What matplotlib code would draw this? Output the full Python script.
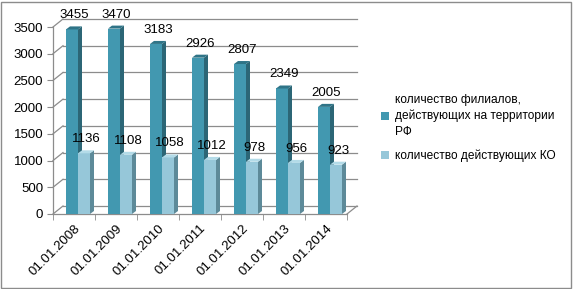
import matplotlib.pyplot as plt
from matplotlib.patches import Polygon, Rectangle, Patch

plt.rcParams['font.family'] = ['Liberation Sans', 'DejaVu Sans']

dates = ['01.01.2008', '01.01.2009', '01.01.2010', '01.01.2011',
         '01.01.2012', '01.01.2013', '01.01.2014']
filials = [3455, 3470, 3183, 2926, 2807, 2349, 2005]
banks = [1136, 1108, 1058, 1012, 978, 956, 923]
yticks = [0, 500, 1000, 1500, 2000, 2500, 3000, 3500]
names = ['количество филиалов,\nдействующих на территории\nРФ',
         'количество действующих КО']

W, H = 573, 289
fig = plt.figure(figsize=(W / 100, H / 100), dpi=100)
# front axis frame in pixels
x0, x1, y0, y1 = 53, 347, 214, 27
ax = fig.add_axes([x0 / W, (H - y0) / H, (x1 - x0) / W, (y0 - y1) / H])
ax.set_xlim(-0.5, 6.5)
ax.set_ylim(0, 3500)

pxx = (x1 - x0) / 7.0          # pixels per category
pxy = (y0 - y1) / 3500.0       # pixels per unit
def ox(p): return p / pxx
def oy(p): return p / pxy

grid_c = '#8c8c8c'
# back wall / side wall gridlines
wdx, wdy = ox(10), oy(8)
for v in yticks:
    ax.plot([-0.5 + wdx, 6.5 + wdx], [v + wdy, v + wdy], color=grid_c, lw=0.9, clip_on=False, zorder=1)
    ax.plot([-0.5, -0.5 + wdx], [v, v + wdy], color=grid_c, lw=0.9, clip_on=False, zorder=1)
ax.plot([6.5, 6.5 + wdx], [0, wdy], color=grid_c, lw=0.9, clip_on=False, zorder=1)

bw = ox(12)
bdx, bdy = ox(4), oy(3)

def bar3d(xl, h, front, side, top):
    ax.add_patch(Rectangle((xl, 0), bw, h, facecolor=front, edgecolor='none', zorder=3, clip_on=False))
    ax.add_patch(Polygon([(xl + bw, 0), (xl + bw + bdx, bdy), (xl + bw + bdx, h + bdy), (xl + bw, h)],
                         facecolor=side, edgecolor='none', zorder=3, clip_on=False))
    ax.add_patch(Polygon([(xl, h), (xl + bdx, h + bdy), (xl + bw + bdx, h + bdy), (xl + bw, h)],
                         facecolor=top, edgecolor='none', zorder=3, clip_on=False))

dark = ('#4298b0', '#2c6676', '#2f7487')
light = ('#96c7d9', '#5d8a99', '#b3dbe8')
for i, (a, b) in enumerate(zip(filials, banks)):
    xl = i - ox(8)
    bar3d(xl, a, *dark)
    bar3d(xl + bw, b, *light)
    ax.text(xl + bw / 2 + ox(2), a + oy(8), str(a), ha='center', va='bottom', fontsize=9.5, zorder=5)
    ax.text(xl + bw * 1.5 + ox(2), b + oy(8), str(b), ha='center', va='bottom', fontsize=9.5, zorder=5)

for s in ['top', 'right']:
    ax.spines[s].set_visible(False)
for s in ['left', 'bottom']:
    ax.spines[s].set_color(grid_c)
    ax.spines[s].set_linewidth(0.9)
ax.set_yticks(yticks)
ax.tick_params(axis='y', length=4, color=grid_c, labelsize=9.5, pad=3)
ax.set_xticks(range(7))
ax.set_xticklabels(dates, rotation=45, ha='right', rotation_mode='anchor', fontsize=9.5)
ax.set_xticks([i - 0.5 for i in range(8)], minor=True)
ax.tick_params(axis='x', which='major', length=0, pad=6)
ax.tick_params(axis='x', which='minor', length=4, color=grid_c)
ax.patch.set_alpha(0)

handles = [Patch(facecolor=dark[0]), Patch(facecolor=light[0])]
leg = fig.legend(handles, names, loc='upper left', bbox_to_anchor=(381 / W, (H - 94) / H),
                 frameon=False, fontsize=8.6, handlelength=0.65, handleheight=0.65,
                 handletextpad=0.5, labelspacing=1.0, borderaxespad=0, borderpad=0)
for t in leg.get_texts():
    t.set_linespacing(1.4)

fig.add_artist(Rectangle((1 / W, 1 / H), (W - 3) / W, (H - 3) / H, transform=fig.transFigure,
                         facecolor='none', edgecolor='#8c8c8c', lw=1))

fig.savefig('out.png', dpi=100)
